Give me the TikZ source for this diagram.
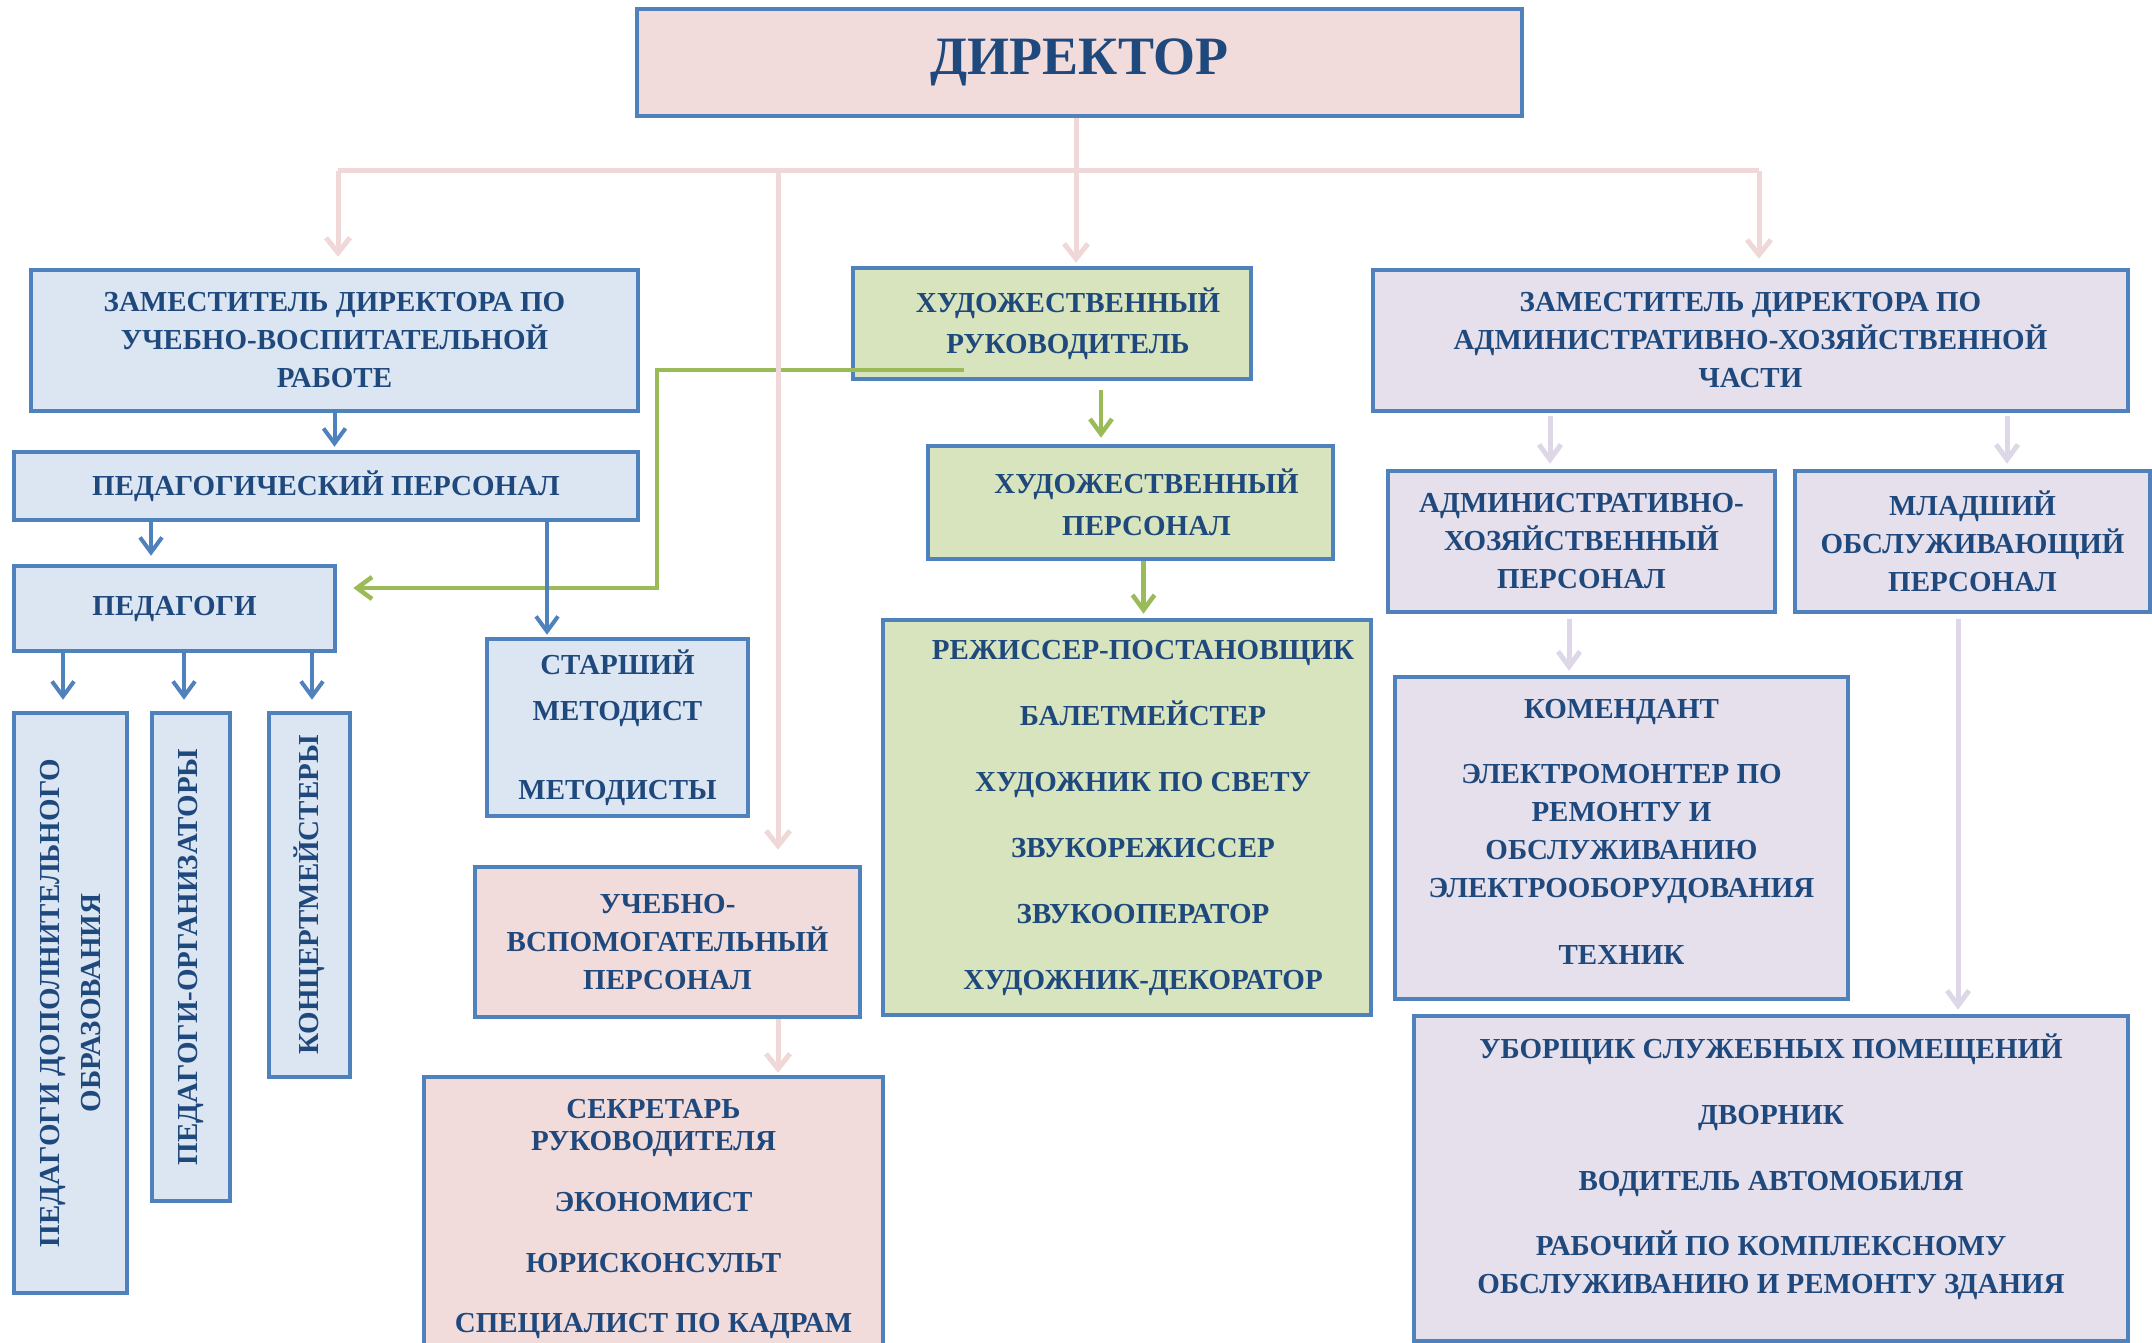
\documentclass[tikz,border=0pt]{standalone}
\usepackage{fontspec}
\setmainfont{Liberation Serif}
\usetikzlibrary{arrows.meta}
\definecolor{bord}{HTML}{4F81BD}
\definecolor{txt}{HTML}{1F497D}
\definecolor{pinkf}{HTML}{F2DCDB}
\definecolor{bluef}{HTML}{DCE6F2}
\definecolor{greenf}{HTML}{D7E4BD}
\definecolor{lavf}{HTML}{E5E0EC}
\definecolor{pinkln}{HTML}{F0D8D8}
\definecolor{lavln}{HTML}{DDD7E8}
\definecolor{greenln}{HTML}{9BBB59}
\newcommand{\rsh}{\hspace*{32pt}}
\tikzset{
  post/.style={draw=bord,line width=4.5pt,align=center,text=txt,inner sep=0pt,
    font=\bfseries\fontsize{29}{38}\selectfont},
  bluepost/.style={post,fill=bluef},
  pinkpost/.style={post,fill=pinkf},
  greenpost/.style={post,fill=greenf},
  lavpost/.style={post,fill=lavf},
  pinkarr/.style={draw=pinkln,line width=5pt,-{Straight Barb[length=15pt,width=24pt]}},
  bluearr/.style={draw=bord,line width=4pt,-{Straight Barb[length=15pt,width=22pt]}},
  greenarr/.style={draw=greenln,line width=4.5pt,-{Straight Barb[length=15pt,width=22pt]}},
  lavarr/.style={draw=lavln,line width=5pt,-{Straight Barb[length=15pt,width=22pt]}}
}
\begin{document}
\begin{tikzpicture}[x=1pt,y=-1pt]
\useasboundingbox (0,0) rectangle (2152,1343);
%top
\node[pinkpost,minimum width=885,minimum height=107,font=\bfseries\fontsize{54}{60}\selectfont] (dir) at (1079.5,62.5) {ДИРЕКТОР};
\node[bluepost,minimum width=607,minimum height=141] (zuvr) at (334.5,340.5) {ЗАМЕСТИТЕЛЬ ДИРЕКТОРА ПО\\УЧЕБНО-ВОСПИТАТЕЛЬНОЙ\\РАБОТЕ};
\node[greenpost,minimum width=398,minimum height=111] (hr) at (1052,323.5) {\rsh ХУДОЖЕСТВЕННЫЙ\\[3pt]\rsh РУКОВОДИТЕЛЬ};
\node[lavpost,minimum width=755,minimum height=141] (zahc) at (1750.5,340.5) {ЗАМЕСТИТЕЛЬ ДИРЕКТОРА ПО\\АДМИНИСТРАТИВНО-ХОЗЯЙСТВЕННОЙ\\ЧАСТИ};
%left branch
\node[bluepost,minimum width=624,minimum height=68] (pp) at (326,486) {ПЕДАГОГИЧЕСКИЙ ПЕРСОНАЛ};
\node[bluepost,minimum width=321,minimum height=85] (ped) at (174.5,608.5) {ПЕДАГОГИ};
\node[bluepost,rotate=90,minimum width=580,minimum height=113] (v1) at (70.5,1003) {ПЕДАГОГИ ДОПОЛНИТЕЛЬНОГО\\[3pt]ОБРАЗОВАНИЯ};
\node[bluepost,rotate=90,minimum width=488,minimum height=78] (v2) at (191,957) {ПЕДАГОГИ-ОРГАНИЗАТОРЫ};
\node[bluepost,rotate=90,minimum width=364,minimum height=81] (v3) at (309.5,895) {КОНЦЕРТМЕЙСТЕРЫ};
\node[bluepost,minimum width=261,minimum height=177] (sm) at (617.5,727.5) {СТАРШИЙ\\[8pt]МЕТОДИСТ\\[41pt]МЕТОДИСТЫ};
\node[pinkpost,minimum width=385,minimum height=150] (uvp) at (667.5,942) {УЧЕБНО-\\ВСПОМОГАТЕЛЬНЫЙ\\ПЕРСОНАЛ};
\node[pinkpost,minimum width=459,minimum height=283] (sek) at (653.5,1218.5) {СЕКРЕТАРЬ\\[-6pt]РУКОВОДИТЕЛЯ\\[23pt]ЭКОНОМИСТ\\[23pt]ЮРИСКОНСУЛЬТ\\[22pt]СПЕЦИАЛИСТ ПО КАДРАМ};
%middle branch
\node[greenpost,minimum width=405,minimum height=113] (hp) at (1130.5,502.5) {\rsh ХУДОЖЕСТВЕННЫЙ\\[4pt]\rsh ПЕРСОНАЛ};
\node[greenpost,minimum width=488,minimum height=395] (rej) at (1127,817.5) {\rsh РЕЖИССЕР-ПОСТАНОВЩИК\\[28pt]\rsh БАЛЕТМЕЙСТЕР\\[28pt]\rsh ХУДОЖНИК ПО СВЕТУ\\[28pt]\rsh ЗВУКОРЕЖИССЕР\\[28pt]\rsh ЗВУКООПЕРАТОР\\[28pt]\rsh ХУДОЖНИК-ДЕКОРАТОР};
%right branch
\node[lavpost,minimum width=387,minimum height=141] (ahp) at (1581.5,541.5) {АДМИНИСТРАТИВНО-\\ХОЗЯЙСТВЕННЫЙ\\ПЕРСОНАЛ};
\node[lavpost,minimum width=355,minimum height=141] (mop) at (1972.5,541.5) {МЛАДШИЙ\\ОБСЛУЖИВАЮЩИЙ\\ПЕРСОНАЛ};
\node[lavpost,minimum width=453,minimum height=322] (kom) at (1621.5,838) {КОМЕНДАНТ\\[27pt]ЭЛЕКТРОМОНТЕР ПО\\РЕМОНТУ И\\ОБСЛУЖИВАНИЮ\\ЭЛЕКТРООБОРУДОВАНИЯ\\[29pt]ТЕХНИК\\[-26pt]~};
\node[lavpost,minimum width=714,minimum height=325] (ub) at (1771,1178.5) {УБОРЩИК СЛУЖЕБНЫХ ПОМЕЩЕНИЙ\\[28pt]ДВОРНИК\\[28pt]ВОДИТЕЛЬ АВТОМОБИЛЯ\\[27pt]РАБОЧИЙ ПО КОМПЛЕКСНОМУ\\ОБСЛУЖИВАНИЮ И РЕМОНТУ ЗДАНИЯ\\[-8pt]~};
%green link
\coordinate (gs) at (964,370);
\coordinate (gk) at (657,370);
\draw[greenarr] (gs) -- (gk) |- ([xshift=16pt,yshift=20.5pt]ped.east);
\draw[greenarr,shorten <=9pt,shorten >=6pt] ([xshift=-29.5pt]hp.north |- hr.south) -- ([xshift=-29.5pt]hp.north);
\draw[greenarr,shorten >=4pt] ([xshift=16.5pt]rej.north |- hp.south) -- ([xshift=16.5pt]rej.north);
%pink lines
\coordinate (fork) at (1076,171);
\coordinate (pl) at (338,171);
\coordinate (pr) at (1759,171);
\coordinate (pm) at (778,171);
\draw[draw=pinkln,line width=5pt] (dir.south -| fork) -- (fork);
\draw[draw=pinkln,line width=5pt] (pl) -- (pr);
\draw[pinkarr,shorten >=11pt] (pl) -- (pl |- zuvr.north);
\draw[pinkarr,shorten >=3pt] (fork) -- (fork |- hr.north);
\draw[pinkarr,shorten >=9pt] (pr) -- (pr |- zahc.north);
\draw[pinkarr,shorten >=15pt] (pm) -- (pm |- uvp.north);
\draw[pinkarr,shorten >=2pt] (pm |- uvp.south) -- (pm |- sek.north);
%blue arrows
\draw[bluearr,shorten >=3pt] (zuvr.south) -- (zuvr.south |- pp.north);
\draw[bluearr,shorten >=8pt] ([xshift=-23.5pt]ped.north |- pp.south) -- ([xshift=-23.5pt]ped.north);
\draw[bluearr,shorten >=2pt] ([xshift=-70.5pt]sm.north |- pp.south) -- ([xshift=-70.5pt]sm.north);
\foreach \v/\s in {v1/-7.5,v2/-7,v3/2.5}{\draw[bluearr,shorten >=11pt] ([xshift=\s pt]\v.east |- ped.south) -- ([xshift=\s pt]\v.east);}
%lavender arrows
\draw[lavarr,shorten <=3pt,shorten >=5pt] ([xshift=-31.5pt]ahp.north |- zahc.south) -- ([xshift=-31.5pt]ahp.north);
\draw[lavarr,shorten <=3pt,shorten >=5pt] ([xshift=34.5pt]mop.north |- zahc.south) -- ([xshift=34.5pt]mop.north);
\draw[lavarr,shorten <=5pt,shorten >=4pt] ([xshift=-52.5pt]kom.north |- ahp.south) -- ([xshift=-52.5pt]kom.north);
\draw[lavarr,shorten <=5pt,shorten >=4pt] ([xshift=187pt]ub.north |- mop.south) -- ([xshift=187pt]ub.north);
\end{tikzpicture}
\end{document}
